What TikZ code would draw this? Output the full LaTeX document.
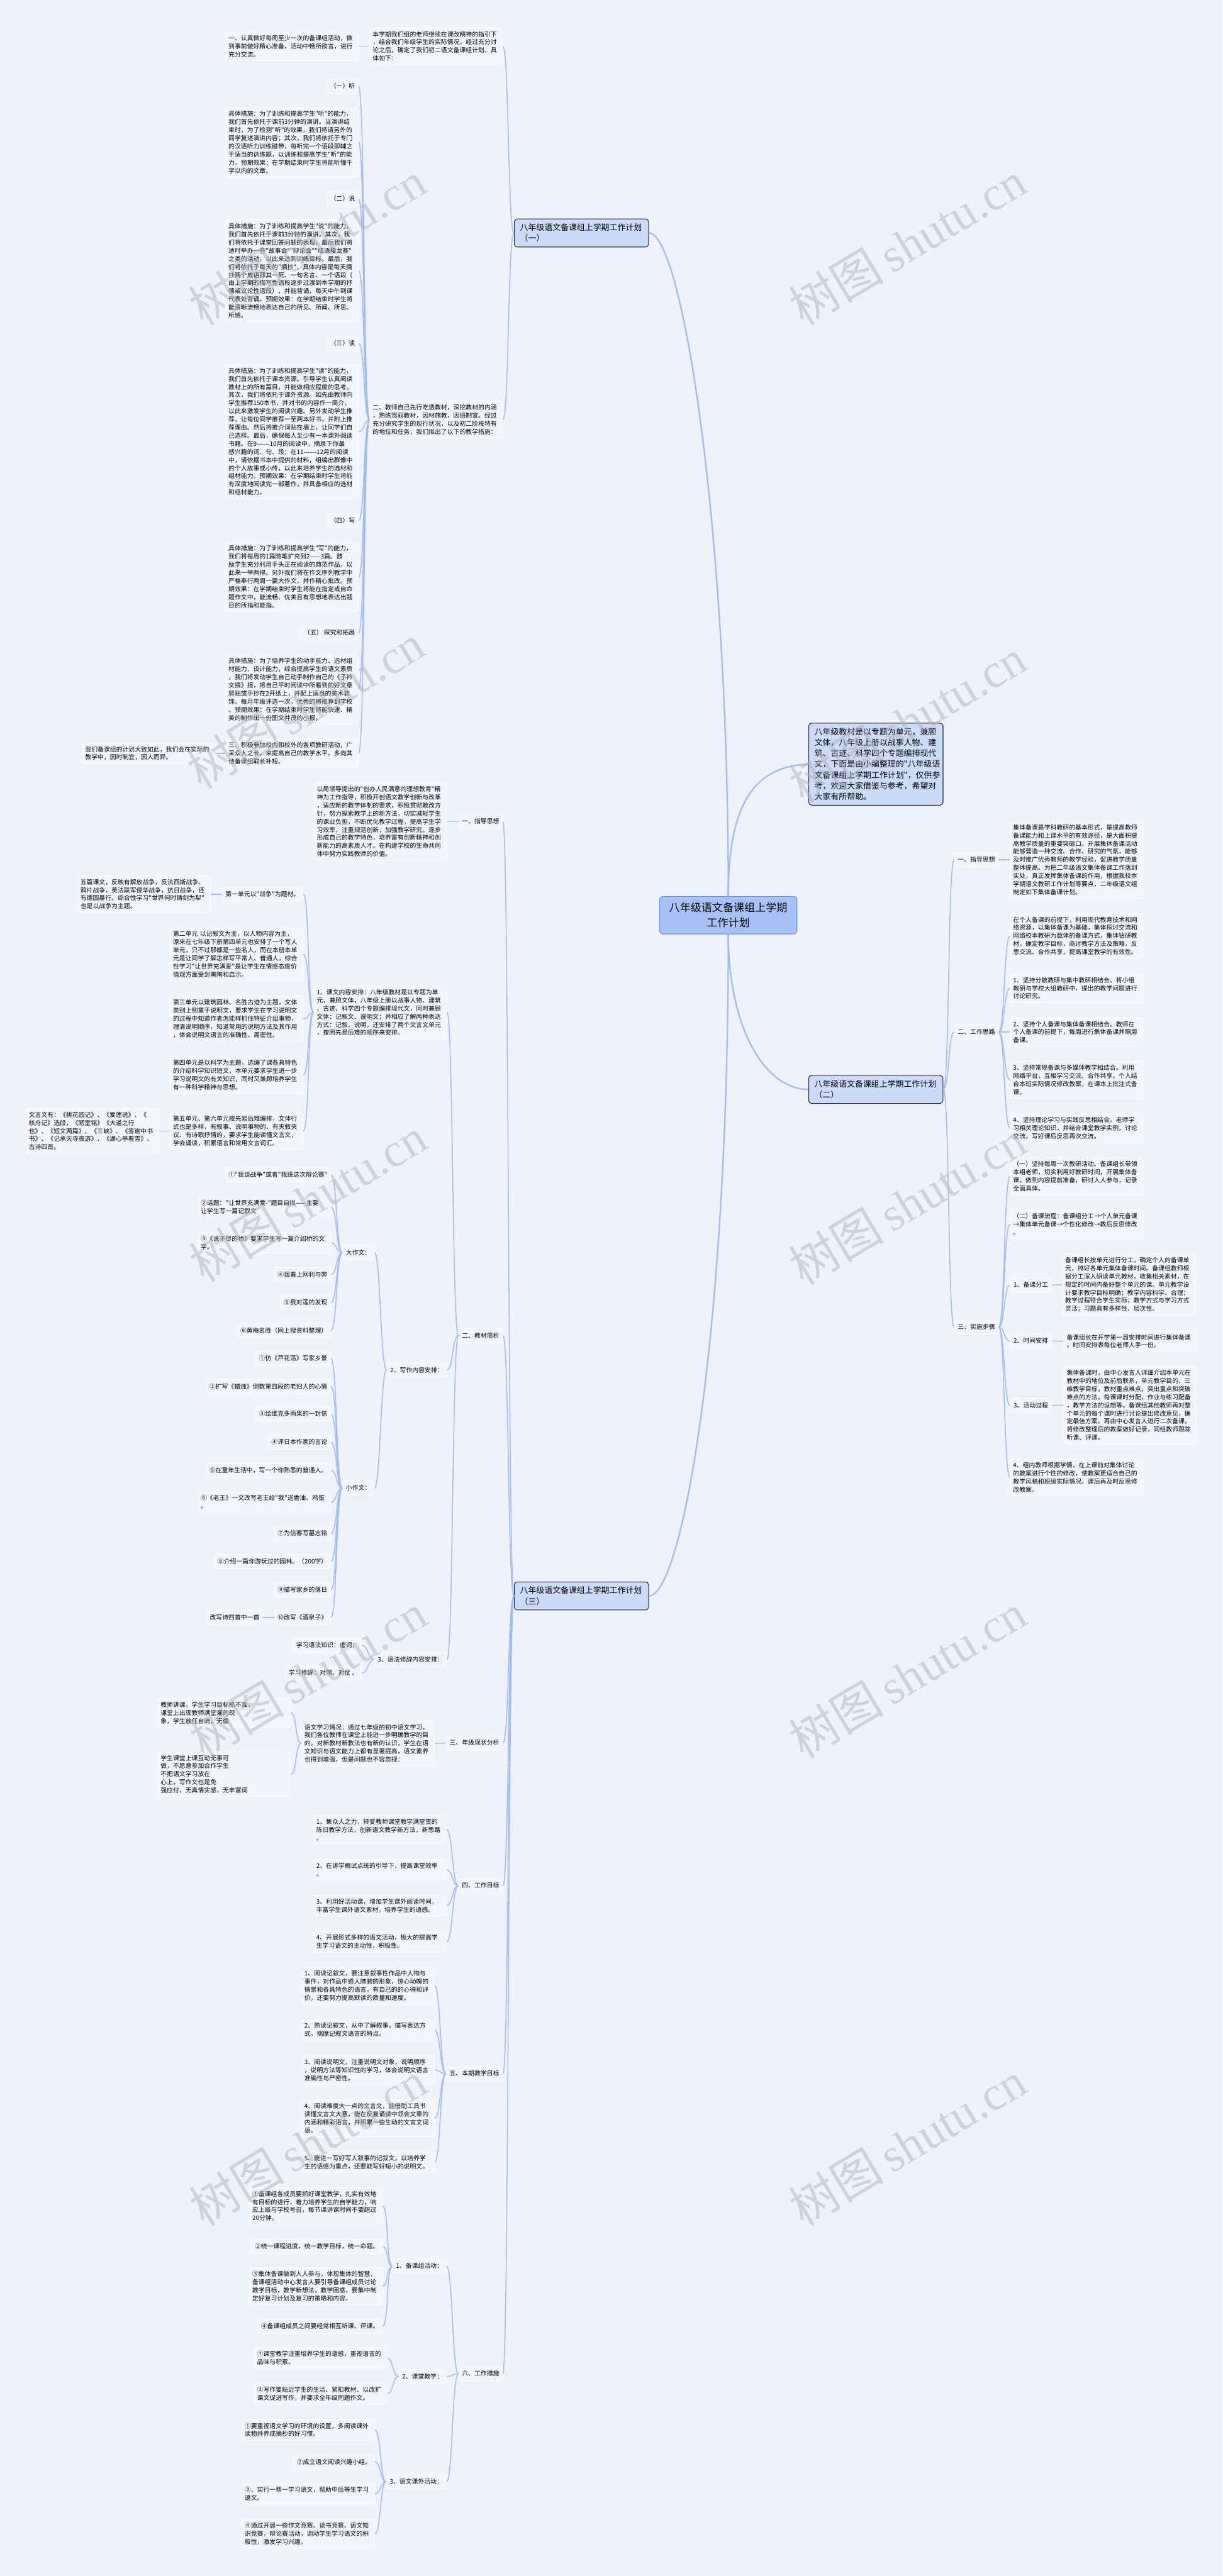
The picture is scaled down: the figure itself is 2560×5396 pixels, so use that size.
\documentclass[tikz,border=0pt]{standalone}
\usepackage{fontspec}
\newfontfamily\cjk{Noto Sans CJK SC}
\newfontfamily\wmserif{Liberation Serif}
\definecolor{bgc}{HTML}{EEF2FB}
\definecolor{boxc}{HTML}{F2F5FD}
\definecolor{linec}{HTML}{A3BCEF}
\definecolor{mainc}{HTML}{CCDBF8}
\definecolor{rootc}{HTML}{A8C2F8}
\definecolor{rootb}{HTML}{6F93E3}
\definecolor{wmc}{HTML}{B0B4BC}
\tikzset{
  tb/.style={draw=white, line width=1.2pt, fill=boxc, rounded corners=5pt, inner xsep=6pt, inner ysep=7pt, font=\cjk\fontsize{13}{17}\selectfont, align=left, text width=266pt},
  lb/.style={draw=white, line width=1.2pt, fill=boxc, rounded corners=5pt, inner xsep=7pt, inner ysep=8.5pt, text height=11pt, text depth=2pt, font=\cjk\fontsize{13}{17}\selectfont},
  big/.style={draw=black!85, line width=1.4pt, fill=mainc, rounded corners=6pt, inner xsep=12pt, inner ysep=10pt, font=\cjk\fontsize{17}{22.7}\selectfont, align=left, text width=257pt},
  rootst/.style={draw=rootb, line width=1.4pt, fill=rootc, rounded corners=6pt, inner xsep=20pt, inner ysep=13pt, font=\cjk\fontsize{22.5}{31.7}\selectfont, align=center},
  conn/.style={draw=linec, line width=2pt},
  mconn/.style={draw=linec, line width=3pt},
  wm/.style={text=wmc, opacity=0.5, rotate=31, font=\fontsize{100}{100}\selectfont},
}
\newcommand\linkL[2]{\draw[conn] (#1.west) .. controls +(-13,0) and +(13,0) .. (#2.east);}
\newcommand\linkR[2]{\draw[conn] (#1.east) .. controls +(13,0) and +(-13,0) .. (#2.west);}
\begin{document}
\begin{tikzpicture}[x=1pt,y=-1pt]
\fill[bgc] (0,0) rectangle (2560,5396);
\useasboundingbox (0,0) rectangle (2560,5396);
\clip (0,0) rectangle (2560,5396);

% ---------- root and main branches ----------
\node[rootst] (root) at (1525,1917) {八年级语文备课组上学期\\工作计划};
\node[big, anchor=north west] (intro) at (1693,1514) {八年级教材是以专题为单元，兼顾\\文体，八年级上册以战事人物、建\\筑、古迹、科学四个专题编排现代\\文，下面是由小编整理的"八年级语\\文备课组上学期工作计划"，仅供参\\考，欢迎大家借鉴与参考，希望对\\大家有所帮助。};
\node[big] (n1) at (1217.5,488) {八年级语文备课组上学期工作计划\\（一）};
\node[big] (n2) at (1834,2282) {八年级语文备课组上学期工作计划\\（二）};
\node[big] (n3) at (1217.5,3343) {八年级语文备课组上学期工作计划\\（三）};

\draw[mconn] (root.north) .. controls (1525,1690) and (1575,1605) .. (intro.west);
\draw[mconn] (root.north) .. controls (1525,1100) and (1428,488) .. (n1.east);
\draw[mconn] (root.south) .. controls (1525,2150) and (1600,2282) .. (n2.west);
\draw[mconn] (root.south) .. controls (1525,2800) and (1428,3343) .. (n3.east);

% ---------- section (一) ----------
\node[tb, anchor=east] (a0) at (1053,97) {本学期我们组的老师继续在课改精神的指引下\\，结合我们年级学生的实际情况，经过充分讨\\论之后，确定了我们初二语文备课组计划。具\\体如下：};
\node[tb, anchor=east] (a01) at (751,97) {一、认真做好每周至少一次的备课组活动，做\\到事前做好精心准备，活动中畅所欲言，进行\\充分交流。};
\node[tb, anchor=east] (a2) at (1053,879) {二、教师自己先行吃透教材，深挖教材的内涵\\，熟练驾驭教材，因材施教，因班制宜。经过\\充分研究学生的现行状况，以及初二阶段特有\\的地位和任务，我们拟出了以下的教学措施：};
\node[lb, anchor=east] (b1) at (751,181) {（一）听};
\node[tb, anchor=east] (b2) at (751,298) {具体措施：为了训练和提高学生"听"的能力，\\我们首先依托于课前3分钟的演讲。当演讲结\\束时，为了检测"听"的效果，我们将请另外的\\同学复述演讲内容；其次，我们将依托于专门\\的汉语听力训练磁带，每听完一个语段即辅之\\于适当的训练题，以训练和提高学生"听"的能\\力。预期效果：在学期结束时学生将能听懂千\\字以内的文章。};
\node[lb, anchor=east] (b3) at (751,417) {（二）说};
\node[tb, anchor=east] (b4) at (751,567.5) {具体措施：为了训练和提高学生"说"的能力，\\我们首先依托于课前3分钟的演讲。其次，我\\们将依托于课堂回答问题的表现。最后我们将\\适时举办一些"故事会""辩论会""成语接龙赛"\\之类的活动，以此来达到训练目标。最后，我\\们将依托于每天的"摘抄"，具体内容是每天摘\\抄两个成语即其一死、一句名言、一个语段（\\由上学期的描写性语段逐步过渡到本学期的抒\\情或议论性语段），并能背诵，每天中午到课\\代表处背诵。预期效果：在学期结束时学生将\\能清晰流畅地表达自己的所见、所闻、所思、\\所感。};
\node[lb, anchor=east] (b5) at (751,719.5) {（三）读};
\node[tb, anchor=east] (b6) at (751,904) {具体措施：为了训练和提高学生"读"的能力，\\我们首先依托于课本资源。引导学生认真阅读\\教材上的所有篇目，并能做相应程度的思考。\\其次，我们将依托于课外资源。如先由教师向\\学生推荐150本书，并对书的内容作一简介，\\以此来激发学生的阅读兴趣。另外发动学生推\\荐，让每位同学推荐一至两本好书，并附上推\\荐理由。然后将推介词贴在墙上，让同学们自\\己选择。最后，确保每人至少有一本课外阅读\\书籍。在9{-}{-}{-}{-}{-}{-}10月的阅读中，摘录下你最\\感兴趣的词、句、段；在11{-}{-}{-}{-}{-}{-}12月的阅读\\中，请依据书本中提供的材料，组编出群像中\\的个人故事或小传，以此来培养学生的选材和\\组材能力。预期效果：在学期结束时学生将能\\有深度地阅读完一部著作，并具备相应的选材\\和组材能力。};
\node[lb, anchor=east] (b7) at (751,1090.5) {（四）写};
\node[tb, anchor=east] (b8) at (751,1208.5) {具体措施：为了训练和提高学生"写"的能力，\\我们将每周的1篇随笔扩充到2{-}{-}{-}{-}{-}3篇。鼓\\励学生充分利用手头正在阅读的典范作品，以\\此来一举两得。另外我们将在作文序列教学中\\严格奉行两周一篇大作文，并作精心批改。预\\期效果：在学期结束时学生将能在指定或自命\\题作文中，能流畅、优美且有思想地表达出题\\目的所指和能指。};
\node[lb, anchor=east] (b9) at (751,1326) {（五）\ 探究和拓展};
\node[tb, anchor=east] (b10) at (751,1444) {具体措施：为了培养学生的动手能力、选材组\\材能力、设计能力，综合提高学生的语文素质\\，我们将发动学生自己动手制作自己的《子衿\\文摘》报，将自己平时阅读中所看到的好文章\\剪贴或手抄在2开纸上，并配上适当的美术装\\饰。每月年级评选一次，优秀的将推荐到学校\\。预期效果：在学期结束时学生将能快速、精\\美的制作出一份图文并茂的小报。};
\node[tb, anchor=east] (b11) at (751,1578) {三、积极参加校内和校外的各项教研活动，广\\采众人之长，来提高自己的教学水平。多向其\\他备课组取长补短。};
\node[tb, anchor=east] (b12) at (451,1578) {我们备课组的计划大致如此，我们会在实际的\\教学中，因时制宜，因人而异。};

\linkL{n1}{a0} \linkL{n1}{a2} \linkL{a0}{a01}
\foreach \c in {b1,b2,b3,b4,b5,b6,b7,b8,b9,b10,b11}{\linkL{a2}{\c}}
\linkL{b11}{b12}

% ---------- section (二) ----------
\node[lb, anchor=west] (c1) at (1998,1801) {一、指导思想};
\node[tb, anchor=west] (c1t) at (2115,1801) {集体备课是学科教研的基本形式，是提高教师\\备课能力和上课水平的有效途径，是大面积提\\高教学质量的重要突破口。开展集体备课活动\\能够营造一种交流、合作、研究的气氛，能够\\及时推广优秀教师的教学经验，促进教学质量\\整体提高。为把二年级语文集体备课工作落到\\实处，真正发挥集体备课的作用，根据我校本\\学期语文教研工作计划等要点，二年级语文组\\制定如下集体备课计划。};
\node[lb, anchor=west] (c2) at (1998,2162) {二、工作思路};
\node[tb, anchor=west] (c2a) at (2115,1960.5) {在个人备课的前提下，利用现代教育技术和网\\络资源，以集体备课为基础，集体探讨交流和\\网络校本教研为载体的备课方式，集体钻研教\\材，确定教学目标，商讨教学方法及策略，反\\思交流、合作共享，提高课堂教学的有效性。};
\node[tb, anchor=west] (c2b) at (2115,2070) {1、坚持分散教研与集中教研相结合。将小组\\教研与学校大组教研中，提出的教学问题进行\\讨论研究。};
\node[tb, anchor=west] (c2c) at (2115,2162) {2、坚持个人备课与集体备课相结合。教师在\\个人备课的前提下，每周进行集体备课并隔周\\备课。};
\node[tb, anchor=west] (c2d) at (2115,2262) {3、坚持常规备课与多媒体教学相结合。利用\\网络平台，互相学习交流、合作共享。个人结\\合本班实际情况修改教案，在课本上批注式备\\课。};
\node[tb, anchor=west] (c2e) at (2115,2363.5) {4、坚持理论学习与实践反思相结合。老师学\\习相关理论知识，并结合课堂教学实例，讨论\\交流，写好课后反思再次交流。};
\node[lb, anchor=west] (c3) at (1998,2780) {三、实施步骤};
\node[tb, anchor=west] (c3a) at (2115,2464) {（一）坚持每周一次教研活动。备课组长带领\\本组老师，切实利用好教研时间，开展集体备\\课。做到内容提前准备，研讨人人参与，记录\\全面具体。};
\node[tb, anchor=west] (c3b) at (2115,2564.5) {（二）备课流程：备课组分工→个人单元备课\\→集体单元备课→个性化修改→教后反思修改\\。};
\node[lb, anchor=west] (c3c) at (2115,2692) {1、备课分工};
\node[tb, anchor=west] (c3ct) at (2224,2691) {备课组长按单元进行分工，确定个人的备课单\\元，排好各单元集体备课时间。备课组教师根\\据分工深入研读单元教材，收集相关素材，在\\规定的时间内备好整个单元的课。单元教学设\\计要求教学目标明确；教学内容科学、合理；\\教学过程符合学生实际；教学方式与学习方式\\灵活；习题具有多样性、层次性。};
\node[lb, anchor=west] (c3d) at (2115,2809) {2、时间安排};
\node[tb, anchor=west] (c3dt) at (2227,2809.5) {备课组长在开学第一周安排时间进行集体备课\\。时间安排表每位老师人手一份。};
\node[lb, anchor=west] (c3e) at (2115,2944) {3、活动过程};
\node[tb, anchor=west] (c3et) at (2227,2943.5) {集体备课时，由中心发言人详细介绍本单元在\\教材中的地位及前后联系，单元教学目的，三\\维教学目标，教材重点难点，突出重点和突破\\难点的方法，每课课时分配，作业与练习配备\\，教学方法的设想等。备课组其他教师再对整\\个单元的每个课时进行讨论提出修改意见，确\\定最佳方案。再由中心发言人进行二次备课，\\将修改整理后的教案做好记录，同组教师跟踪\\听课、评课。};
\node[tb, anchor=west] (c3f) at (2115,3095) {4、组内教师根据学情，在上课前对集体讨论\\的教案进行个性的修改，使教案更适合自己的\\教学风格和班级实际情况。课后再及时反思修\\改教案。};

\linkR{n2}{c1} \linkR{n2}{c2} \linkR{n2}{c3} \linkR{c1}{c1t}
\foreach \c in {c2a,c2b,c2c,c2d,c2e}{\linkR{c2}{\c}}
\foreach \c in {c3a,c3b,c3c,c3d,c3e,c3f}{\linkR{c3}{\c}}
\linkR{c3c}{c3ct} \linkR{c3d}{c3dt} \linkR{c3e}{c3et}

% ---------- section (三) ----------
\node[lb, anchor=east] (l1) at (1053,1721) {一、指导思想};
\node[lb, anchor=east] (l2) at (1053,2798) {二、教材简析};
\node[lb, anchor=east] (l3) at (1053,3651) {三、年级现状分析};
\node[lb, anchor=east] (l4) at (1053,3950) {四、工作目标};
\node[lb, anchor=east] (l5) at (1053,4344) {五、本期教学目标};
\node[lb, anchor=east] (l6) at (1053,4972) {六、工作措施};
\foreach \c in {l1,l2,l3,l4,l5,l6}{\linkL{n3}{\c}}

\node[tb, anchor=east] (t1) at (936,1721) {以局领导提出的"创办人民满意的理想教育"精\\神为工作指导，积极开创语文教学创新与改革\\，适应新的教学体制的要求，积极贯彻教改方\\针，努力探索教学上的新方法，切实减轻学生\\的课业负担，不断优化教学过程，提高学生学\\习效率，注重规范创新，加强教学研究。逐步\\形成自己的教学特色，培养富有创新精神和创\\新能力的高素质人才。在构建学校的生命共同\\体中努力实践教师的价值。};
\linkL{l1}{t1}

\node[tb, anchor=east] (k1) at (936,2121) {1、课文内容安排：八年级教材是以专题为单\\元，兼顾文体，八年级上册以战事人物、建筑\\、古迹、科学四个专题编排现代文，同时兼顾\\文体：记叙文、说明文；并相应了解两种表达\\方式：记叙、说明，还安排了两个文言文单元\\，按照先易后难的顺序来安排。};
\node[lb, anchor=east] (k2) at (936,2870) {2、写作内容安排：};
\node[lb, anchor=east] (k3) at (936,3476) {3、语法修辞内容安排：};
\linkL{l2}{k1} \linkL{l2}{k2} \linkL{l2}{k3}

\node[lb, anchor=east] (u1) at (635,1873) {第一单元以"战争"为题材。};
\node[tb, anchor=east] (u1c) at (441,1873) {五篇课文，反映有解放战争，反法西斯战争、\\鸦片战争，英法联军侵华战争，抗日战争，还\\有德国暴行。综合性学习"世界何时铸剑为犁"\\也是以战争为主题。};
\node[tb, anchor=east] (u2) at (635,1999) {第二单元 以记叙文为主，以人物内容为主，\\原来在七年级下册第四单元也安排了一个写人\\单元，只不过那都是一些名人，而在本册本单\\元是让同学了解怎样写平常人、普通人，综合\\性学习"让世界充满爱"是让学生在情感态度价\\值观方面受到熏陶和启示。};
\node[tb, anchor=east] (u3) at (635,2134) {第三单元以建筑园林、名胜古迹为主题，文体\\类别上侧重于说明文，要求学生在学习说明文\\的过程中知道作者怎能样抓住特征介绍事物，\\理清说明顺序，知道常用的说明方法及其作用\\，体会说明文语言的准确性、周密性。};
\node[tb, anchor=east] (u4) at (635,2251.5) {第四单元是以科学为主题，选编了课各具特色\\的介绍科学知识短文，本单元要求学生进一步\\学习说明文的有关知识，同时又兼顾培养学生\\有一种科学精神与思想。};
\node[tb, anchor=east] (u5) at (635,2369) {第五单元、第六单元按先易后难编排，文体行\\式也是多样，有叙事、说明事物的、有夹叙夹\\议、有诗歌抒情的，要求学生能读懂文言文，\\学会诵读，积累语言和常用文言词汇。};
\node[tb, anchor=east] (u5c) at (333,2369) {文言文有：《桃花园记》、《爱莲说》、《\\核舟记》选段，《陋室铭》《大道之行\\也》、《短文两篇》、《三峡》、《答谢中书\\书》、《记承天寺夜游》、《湖心亭看雪》、\\古诗四首。};
\foreach \c in {u1,u2,u3,u4,u5}{\linkL{k1}{\c}}
\linkL{u1}{u1c} \linkL{u5}{u5c}

\node[lb, anchor=east] (d0) at (784,2624) {大作文：};
\node[lb, anchor=east] (x0) at (784,3117) {小作文：};
\linkL{k2}{d0} \linkL{k2}{x0}
\node[lb, anchor=east] (d1) at (693,2461) {①"我谈战争"或者"我班这次辩论赛"};
\node[tb, anchor=east] (d2) at (693,2528.5) {②话题："让世界充满爱-"题目自拟——主要\\让学生写一篇记叙文};
\node[tb, anchor=east] (d3) at (693,2603.5) {③《说不尽的桥》要求学生写一篇介绍桥的文\\字。};
\node[lb, anchor=east] (d4) at (693,2670) {④我看上网利与弊};
\node[lb, anchor=east] (d5) at (693,2728.5) {⑤我对莲的发现};
\node[lb, anchor=east] (d6) at (693,2787) {⑥黄梅名胜（网上搜资料整理）};
\foreach \c in {d1,d2,d3,d4,d5,d6}{\linkL{d0}{\c}}
\node[lb, anchor=east] (x1) at (693,2845.5) {①仿《芦花荡》写家乡景};
\node[lb, anchor=east] (x2) at (693,2904.5) {②扩写《蜡烛》倒数第四段的老妇人的心情};
\node[lb, anchor=east] (x3) at (693,2962) {③给维克多雨果的一封信};
\node[lb, anchor=east] (x4) at (693,3021) {④评日本作家的言论};
\node[lb, anchor=east] (x5) at (693,3080) {⑤在童年生活中，写一个你熟悉的普通人。};
\node[tb, anchor=east] (x6) at (693,3146.5) {⑥《老王》一文改写老王给"我"送香油、鸡蛋\\。};
\node[lb, anchor=east] (x7) at (693,3212.5) {⑦为信客写墓志铭};
\node[lb, anchor=east] (x8) at (693,3271) {⑧介绍一篇你游玩过的园林。（200字）};
\node[lb, anchor=east] (x9) at (693,3330) {⑨描写家乡的落日};
\node[lb, anchor=east] (x10) at (693,3388) {⑩改写《酒泉子》};
\node[lb, anchor=east] (x10c) at (551,3388) {改写诗四首中一首};
\foreach \c in {x1,x2,x3,x4,x5,x6,x7,x8,x9,x10}{\linkL{x0}{\c}}
\linkL{x10}{x10c}
\node[lb, anchor=east] (g1) at (758,3446.5) {学习语法知识：虚词；};
\node[lb, anchor=east] (g2) at (758,3504.5) {学习修辞：对偶、对仗 。};
\linkL{k3}{g1} \linkL{k3}{g2}

\node[tb, anchor=east] (s1) at (910,3652) {语文学习情况：通过七年级的初中语文学习，\\我们各位教师在课堂上能进一步明确教学的目\\的，对新教材新教法也有新的认识，学生在语\\文知识与语文能力上都有显著提高，语文素养\\也得到增强，但是问题也不容忽视：};
\node[tb, anchor=east] (s1a) at (609,3588) {教师讲课，学生学习目标抓不准，\\课堂上出现教师满堂灌的现\\象，学生放任自流，无循};
\node[tb, anchor=east] (s1b) at (609,3716.5) {学生课堂上课互动无事可\\做，不愿意参加合作学生\\不把语文学习放在\\心上，写作文也是免\\强应付，无真情实感，无丰富词};
\linkL{l3}{s1} \linkL{s1}{s1a} \linkL{s1}{s1b}

\node[tb, anchor=east] (w1) at (935,3832.5) {1、集众人之力，转变教师课堂教学满堂贯的\\陈旧教学方法，创新语文教学新方法，新思路\\。};
\node[tb, anchor=east] (w2) at (935,3916.5) {2、在讲学稿试点班的引导下，提高课堂效率\\。};
\node[tb, anchor=east] (w3) at (935,3991.5) {3、利用好活动课，增加学生课外阅读时间，\\丰富学生课外语文素材，培养学生的语感。};
\node[tb, anchor=east] (w4) at (935,4067.5) {4、开展形式多样的语文活动，极大的提高学\\生学习语文的主动性，积极性。};
\foreach \c in {w1,w2,w3,w4}{\linkL{l4}{\c}}

\node[tb, anchor=east] (m1) at (910,4159.5) {1、阅读记叙文，要注意叙事性作品中人物与\\事件，对作品中感人肺腑的形象，惊心动魄的\\情景和各具特色的语言，有自己的的心得和评\\价，还要努力提高默读的质量和速度。};
\node[tb, anchor=east] (m2) at (910,4252) {2、熟读记叙文，从中了解叙事，描写表达方\\式，揣摩记叙文语言的特点。};
\node[tb, anchor=east] (m3) at (910,4336) {3、阅读说明文，注重说明文对象，说明顺序\\，说明方法等知识性的学习，体会说明文语言\\准确性与严密性。};
\node[tb, anchor=east] (m4) at (910,4437) {4、阅读难度大一点的文言文，能借助工具书\\读懂文言文大意，能在反复诵读中领会文章的\\内涵和精彩语言，并积累一些生动的文言文词\\语。};
\node[tb, anchor=east] (m5) at (910,4529.5) {5、能进一写好写人叙事的记叙文，以培养学\\生的语感为重点，还要能写好短小的说明文。};
\foreach \c in {m1,m2,m3,m4,m5}{\linkL{l5}{\c}}

\node[lb, anchor=east] (p1) at (935,4747) {1、备课组活动：};
\node[lb, anchor=east] (p2) at (935,4978) {2、课堂教学：};
\node[lb, anchor=east] (p3) at (935,5198.5) {3、语文课外活动：};
\linkL{l6}{p1} \linkL{l6}{p2} \linkL{l6}{p3}
\node[tb, anchor=east] (p1a) at (801,4621) {①备课组各成员要抓好课堂教学，扎实有效地\\有目标的进行，着力培养学生的自学能力，响\\应上级与学校号召，每节课讲课时间不要超过\\20分钟。};
\node[lb, anchor=east] (p1b) at (801,4705.5) {②统一课程进度，统一教学目标，统一命题。};
\node[tb, anchor=east] (p1c) at (801,4788.5) {③集体备课做到人人参与，体现集体的智慧，\\备课组活动中心发言人要引导备课组成员讨论\\教学目标，教学新想法，教学困惑，要集中制\\定好复习计划及复习的策略和内容。};
\node[lb, anchor=east] (p1d) at (801,4873) {④备课组成员之间要经常相互听课、评课。};
\foreach \c in {p1a,p1b,p1c,p1d}{\linkL{p1}{\c}}
\node[tb, anchor=east] (p2a) at (811,4939.5) {①课堂教学注重培养学生的语感，重视语言的\\品味与积累。};
\node[tb, anchor=east] (p2b) at (811,5014.5) {②写作要贴近学生的生活、紧扣教材、以改扩\\课文促进写作，并要求全年级同题作文。};
\linkL{p2}{p2a} \linkL{p2}{p2b}
\node[tb, anchor=east] (p3a) at (785,5090) {①要重视语文学习的环境的设置，多阅读课外\\读物并养成摘抄的好习惯。};
\node[lb, anchor=east] (p3b) at (785,5157) {②成立语文阅读兴趣小组。};
\node[tb, anchor=east] (p3c) at (785,5224) {③、实行一帮一学习语文，帮助中后等生学习\\语文。};
\node[tb, anchor=east] (p3d) at (785,5307) {④通过开展一些作文竞赛、读书竞赛、语文知\\识竞赛，辩论赛活动，调动学生学习语文的积\\极性，激发学习兴趣。};
\foreach \c in {p3a,p3b,p3c,p3d}{\linkL{p3}{\c}}

% ---------- watermarks ----------
\foreach \wx/\wy in {643/510,640/1480,645/2513,645/3510,645/4490,1900/510,1900/1510,1900/2520,1900/3510,1900/4490}{
  \node[wm] at (\wx,\wy) {{\cjk 树图}\,{\wmserif shutu.cn}};
}
\end{tikzpicture}
\end{document}
